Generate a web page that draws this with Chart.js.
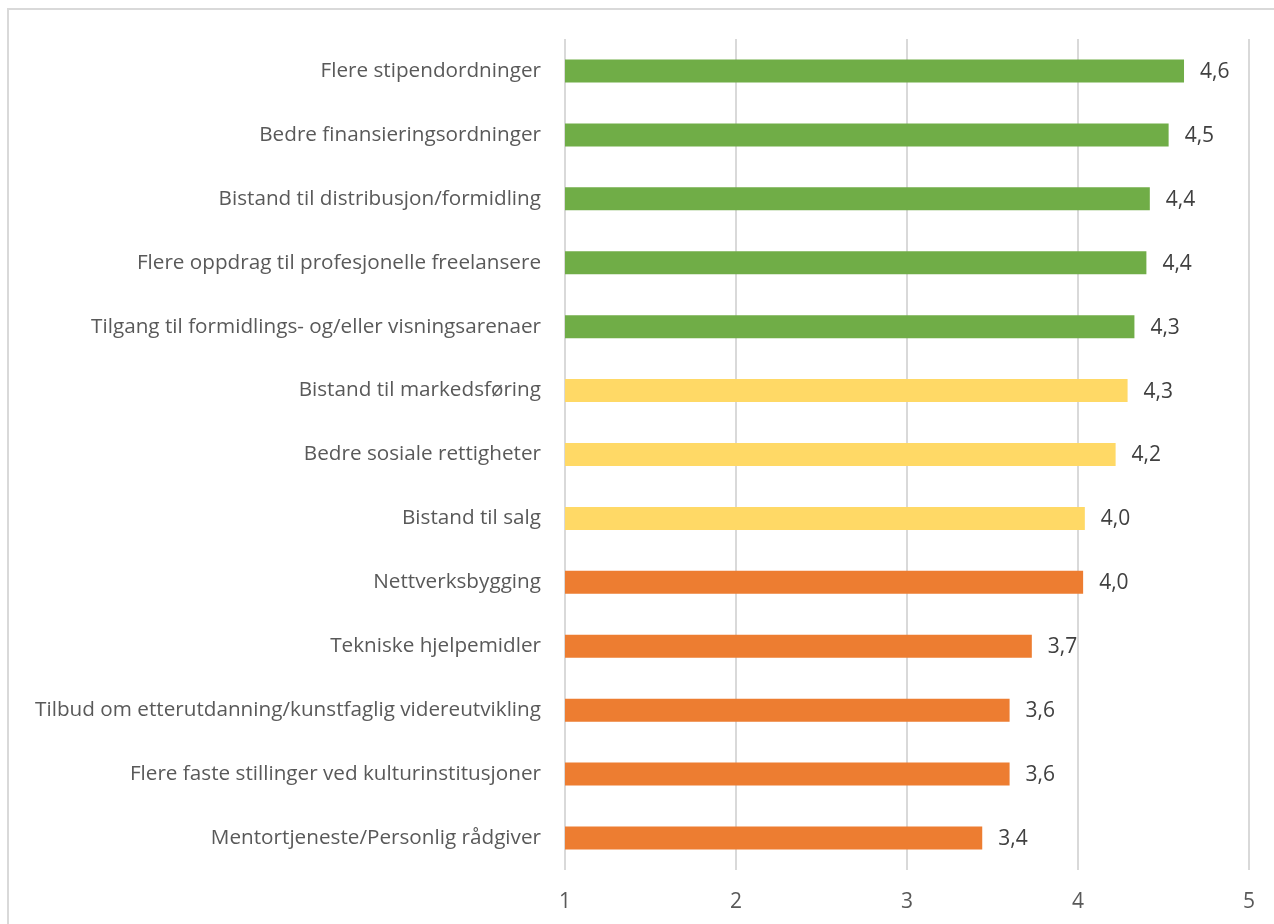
<!DOCTYPE html>
<html>
<head>
<meta charset="utf-8">
<script src="https://cdn.jsdelivr.net/npm/chart.js@4"></script>
<style>
  html, body { margin: 0; padding: 0; background: #fff; overflow: hidden; }
  #frame { position: absolute; left: 7px; top: 8px; width: 1400px; height: 1100px;
           border: 2px solid #d9d9d9; box-sizing: border-box; }
  #wrap { position: absolute; left: 0; top: 0; width: 1274px; height: 924px; }
</style>
</head>
<body>
<div id="frame"></div>
<div id="wrap"><canvas id="c"></canvas></div>
<script>
// tiltak, sortert som i figuren
var categories = [
    'Flere stipendordninger',
    'Bedre finansieringsordninger',
    'Bistand til distribusjon/formidling',
    'Flere oppdrag til profesjonelle freelansere',
    'Tilgang til formidlings- og/eller visningsarenaer',
    'Bistand til markedsføring',
    'Bedre sosiale rettigheter',
    'Bistand til salg',
    'Nettverksbygging',
    'Tekniske hjelpemidler',
    'Tilbud om etterutdanning/kunstfaglig videreutvikling',
    'Flere faste stillinger ved kulturinstitusjoner',
    'Mentortjeneste/Personlig rådgiver'
];
var values = [4.62, 4.53, 4.42, 4.40, 4.33, 4.29, 4.22, 4.04, 4.03, 3.73, 3.60, 3.60, 3.44];
// gruppe per stolpe: g = grønn, y = gul, o = oransje
var groups = ['g', 'g', 'g', 'g', 'g', 'y', 'y', 'y', 'o', 'o', 'o', 'o', 'o'];
var groupColors = { g: '#70AD47', y: '#FFD966', o: '#ED7D31' };
var xTicks = [1, 2, 3, 4, 5];

var FONT = '"Open Sans", sans-serif';

// verdietiketter til høyre for stolpene, med komma som desimaltegn
var valueLabels = {
    id: 'valueLabels',
    afterDatasetsDraw: function (chart) {
        var ctx = chart.ctx;
        var meta = chart.getDatasetMeta(0);
        ctx.save();
        ctx.font = '21px ' + FONT;
        ctx.fillStyle = '#404040';
        ctx.textAlign = 'left';
        ctx.textBaseline = 'middle';
        meta.data.forEach(function (bar, i) {
            var txt = values[i].toFixed(1).replace('.', ',');
            ctx.fillText(txt, bar.x + 16, bar.y + 1);
        });
        ctx.restore();
    }
};

new Chart(document.getElementById('c'), {
    type: 'bar',
    data: {
        labels: categories,
        datasets: [{
            data: values,
            backgroundColor: groups.map(function (g) { return groupColors[g]; }),
            borderWidth: 0,
            categoryPercentage: 1,
            barPercentage: 0.36
        }]
    },
    options: {
        indexAxis: 'y',
        responsive: true,
        maintainAspectRatio: false,
        animation: false,
        layout: { padding: { left: 10, right: 20, top: 39, bottom: 0 } },
        plugins: { legend: { display: false }, tooltip: { enabled: false } },
        scales: {
            x: {
                min: 1,
                max: 5,
                afterBuildTicks: function (scale) {
                    scale.ticks = xTicks.map(function (v) { return { value: v }; });
                },
                grid: { color: '#d9d9d9', lineWidth: 2, drawTicks: false },
                border: { display: false },
                ticks: { color: '#595959', font: { family: FONT, size: 21 }, padding: 19 },
                afterFit: function (scale) { scale.height = 54; }
            },
            y: {
                grid: { display: false, drawTicks: false },
                border: { display: false },
                ticks: { color: '#595959', font: { family: FONT, size: 20.7 }, padding: 24 },
                afterFit: function (scale) { scale.width = 555; }
            }
        }
    },
    plugins: [valueLabels]
});
</script>
</body>
</html>
